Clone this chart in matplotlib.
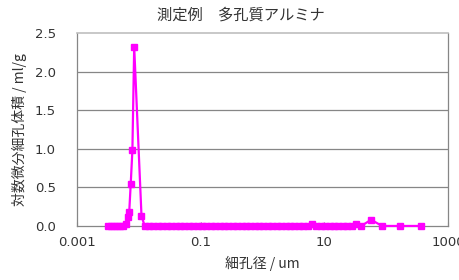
import matplotlib
matplotlib.use("Agg")
import matplotlib.pyplot as plt
from matplotlib.ticker import NullLocator

plt.rcParams['font.family'] = ['DejaVu Sans', 'Noto Sans CJK JP']

# pore diameter (um) and log differential pore volume (ml/g)
diameter = [0.00316, 0.00353, 0.00395, 0.00442, 0.00494, 0.00552, 0.00617,
            0.00677, 0.00703, 0.00744, 0.00791, 0.00846, 0.0111,
            0.0125, 0.0147, 0.0173, 0.0204, 0.0241, 0.0284, 0.0334, 0.0394,
            0.0464, 0.0546, 0.0644, 0.0758, 0.0893, 0.105, 0.124, 0.146,
            0.172, 0.203, 0.239, 0.281, 0.331, 0.390, 0.460, 0.542, 0.638,
            0.752, 0.886, 1.04, 1.23, 1.45, 1.70, 2.01, 2.37, 2.79, 3.28,
            3.87, 4.56, 5.37, 6.32, 7.45, 8.78, 10.3, 12.2, 14.3, 16.9,
            19.9, 23.4, 27.6, 33.0, 39.5, 57.0, 86.0, 170.0, 367.0]
volume = [0.0, 0.0, 0.0, 0.0, 0.0, 0.0, 0.02,
          0.12, 0.18, 0.55, 0.98, 2.32, 0.13,
          0.0, 0.0, 0.0, 0.0, 0.0, 0.0, 0.0, 0.0,
          0.0, 0.0, 0.0, 0.0, 0.0, 0.0, 0.0, 0.0,
          0.0, 0.0, 0.0, 0.0, 0.0, 0.0, 0.0, 0.0, 0.0,
          0.0, 0.0, 0.0, 0.0, 0.0, 0.0, 0.0, 0.0, 0.0, 0.0,
          0.0, 0.0, 0.0, 0.02, 0.0, 0.0, 0.0, 0.0, 0.0, 0.0,
          0.0, 0.0, 0.0, 0.03, 0.0, 0.08, 0.0, 0.0, 0.0]

x_ticks = [0.001, 0.1, 10, 1000]
x_ticklabels = ["0.001", "0.1", "10", "1000"]
y_ticks = [0.0, 0.5, 1.0, 1.5, 2.0, 2.5]
y_ticklabels = ["0.0", "0.5", "1.0", "1.5", "2.0", "2.5"]

title = "測定例\u3000多孔質アルミナ"
xlabel = "細孔径 / um"
ylabel = "対数微分細孔体積 / ml/g"
cjk = ['Noto Sans CJK JP', 'DejaVu Sans']

fig = plt.figure(figsize=(4.6, 2.8), dpi=100)
ax = fig.add_axes([0.167, 0.193, 0.807, 0.689])

ax.plot(diameter, volume, color="#FF00FF", lw=1.6, marker="s", ms=3.8,
        mec="#FF00FF", mfc="#FF00FF", zorder=3, clip_on=False)

ax.set_xscale("log")
ax.set_xlim(1e-3, 1e3)
ax.set_ylim(0, 2.5)
ax.set_xticks(x_ticks)
ax.set_xticklabels(x_ticklabels)
ax.xaxis.set_minor_locator(NullLocator())
ax.set_yticks(y_ticks)
ax.set_yticklabels(y_ticklabels)

for y in y_ticks[1:-1]:
    ax.axhline(y, color="#868686", lw=0.9, zorder=1)

for s in ["left", "bottom", "right"]:
    ax.spines[s].set_color("#868686")
    ax.spines[s].set_linewidth(0.9)
ax.spines["top"].set_color("#BFBFBF")
ax.spines["top"].set_linewidth(1.2)

ax.tick_params(axis="y", length=0, pad=15, labelsize=9.5, labelcolor="#333333")
ax.tick_params(axis="x", direction="in", length=3, color="#868686",
               pad=7, labelsize=9.5, labelcolor="#333333")

ax.set_xlabel(xlabel, family=cjk, fontsize=10, color="#333333", labelpad=5)
ax.set_ylabel(ylabel, family=cjk, fontsize=10, color="#333333", labelpad=6)
fig.text(0.524, 0.945, title, family=cjk, fontsize=11, color="#333333",
         ha="center", va="center")

fig.savefig("out.png", dpi=100)
